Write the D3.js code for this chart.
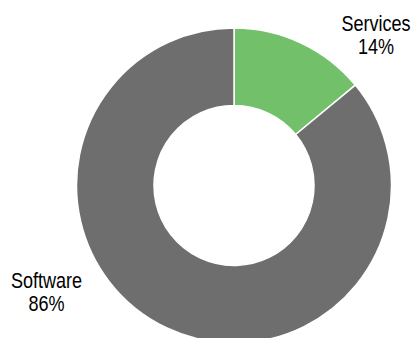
<!DOCTYPE html>
<html>
<head>
<meta charset="utf-8">
<script src="https://cdn.jsdelivr.net/npm/d3@7"></script>
<style>
  body { margin: 0; background: #fff; }
  text { font-family: "Liberation Sans Narrow", "Liberation Sans", Arial, sans-serif; fill: #000; }
</style>
</head>
<body>
<svg class="chart"></svg>
<script>
var categories = ["Services", "Software"];
var values = [14, 86];
var labels = ["14%", "86%"];
var colors = ["#73c06b", "#6e6e6e"];

var width = 414, height = 338;
var cx = 234, cy = 185.5, outerR = 157.5, innerR = 80;

var chart = d3.select(".chart")
    .attr("width", width)
    .attr("height", height);

var g = chart.append("g")
    .attr("transform", "translate(" + cx + "," + cy + ")");

var pie = d3.pie().sort(null).value(function(d){ return d; });
var arc = d3.arc().innerRadius(innerR).outerRadius(outerR);

var color = d3.scaleOrdinal().domain(categories).range(colors);

g.selectAll("path")
    .data(pie(values))
  .enter().append("path")
    .attr("d", arc)
    .attr("fill", function(d, i){ return color(categories[i]); })
    .attr("stroke", "#fff")
    .attr("stroke-width", 1.5);

// label spots, outside the ring
var labelPos = [[376, 31], [46.5, 288]];

var lab = chart.selectAll("g.lab")
    .data(categories)
  .enter().append("g")
    .attr("class", "lab")
    .attr("transform", function(d, i){ return "translate(" + labelPos[i][0] + "," + labelPos[i][1] + ") scale(0.84,1)"; });

lab.append("text")
    .attr("text-anchor", "middle")
    .attr("font-size", 21.5)
    .text(function(d){ return d; });

lab.append("text")
    .attr("text-anchor", "middle")
    .attr("font-size", 21.5)
    .attr("y", 23)
    .text(function(d, i){ return labels[i]; });
</script>
</body>
</html>
